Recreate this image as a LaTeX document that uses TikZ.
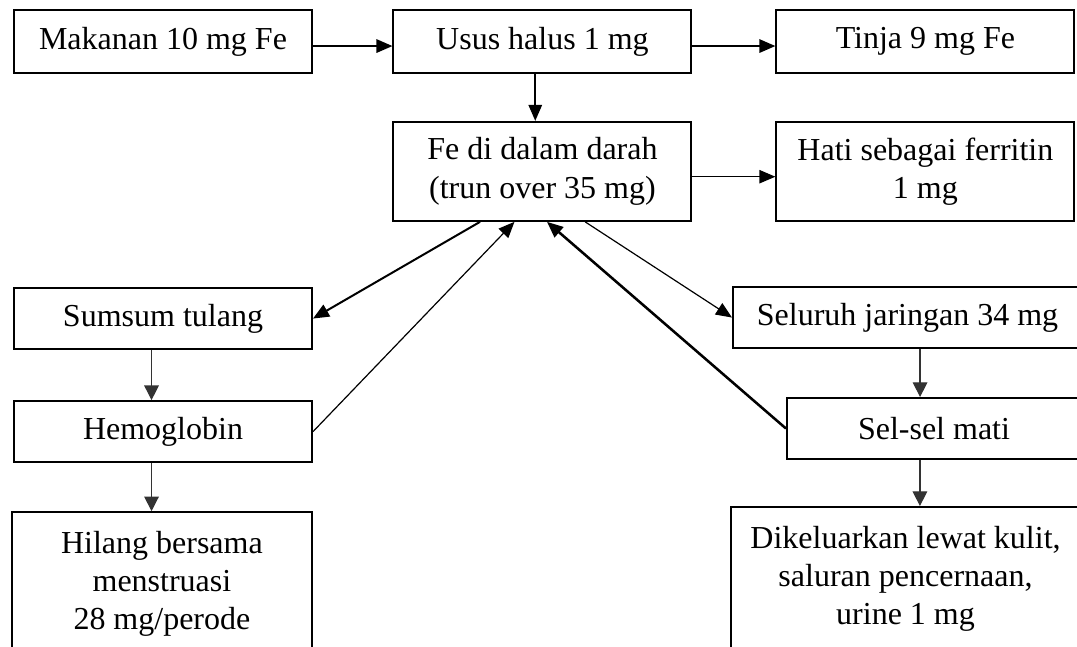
\documentclass[tikz,border=0pt]{standalone}
\usepackage{fontspec}
\setmainfont{Liberation Serif}
\usetikzlibrary{arrows.meta,positioning}
\newcommand{\padR}{\hspace*{6pt}}
\tikzset{
  basebox/.style={rectangle,draw=black,line width=0.75pt,align=center,inner sep=0pt,font=\fontsize{12}{14.3}\selectfont},
  topbox/.style={basebox,minimum width=111.75pt,minimum height=23.6pt},
  bloodbox/.style={basebox,minimum width=111.75pt,minimum height=37.1pt},
  organbox/.style={basebox,minimum width=111.75pt,minimum height=22.9pt},
  lossbox/.style={basebox,minimum width=112.5pt,minimum height=54pt},
  tissuebox/.style={basebox,minimum width=136.9pt,minimum height=22.9pt},
  arr/.style={-{Triangle[length=6pt,width=5pt]},line width=0.75pt,color=black},
  thinarr/.style={arr,line width=0.45pt},
  thickarr/.style={arr,line width=0.95pt},
  grayarr/.style={-{Triangle[length=5.5pt,width=5.5pt]},line width=0.45pt,color=black!80}
}

\begin{document}
\begin{tikzpicture}[node distance=17.6pt and 29.8pt]
  \useasboundingbox (0,0) rectangle (403.875pt,-242.625pt);
  \clip (0,0) rectangle (403.875pt,-242.625pt);
  \node[topbox] (mak) at (61.125pt,-15.5625pt) {Makanan 10 mg Fe};
  \node[topbox,right=29.8pt of mak] (usus) {Usus halus 1 mg};
  \node[topbox,right=31.1pt of usus] (tinja) {Tinja 9 mg Fe};
  \node[bloodbox,below=17.6pt of usus] (fe) {Fe di dalam darah\\(trun over 35 mg)};
  \node[bloodbox,right=31.1pt of fe] (hati) {Hati sebagai ferritin\\1 mg};
  \node[organbox,below=79.9pt of mak] (sumsum) {Sumsum tulang};
  \node[organbox,below=18.75pt of sumsum] (hemo) {Hemoglobin};
  \node[lossbox,below=18pt of hemo,xshift=-0.4pt] (hilang) {Hilang bersama\\menstruasi\\28 mg/perode};
  \node[tissuebox,anchor=north west] (seluruh) at (274.5pt,-107.25pt) {Seluruh jaringan 34 mg\padR};
  \node[organbox,minimum width=116.25pt,anchor=north west] (sel) at (294.75pt,-148.875pt) {Sel-sel mati\padR};
  \node[lossbox,minimum width=130.9pt,anchor=north west] (dik) at (273.75pt,-189.75pt) {Dikeluarkan lewat kulit,\\saluran pencernaan,\\urine 1 mg};
  \draw[arr] ([yshift=-1.7pt]mak.east) -- ([yshift=-1.7pt]usus.west);
  \draw[arr] ([yshift=-1.7pt]usus.east) -- ([yshift=-1.7pt]tinja.west);
  \draw[arr] ([xshift=-2.7pt]usus.south) -- ([xshift=-2.7pt]fe.north);
  \draw[thinarr] ([yshift=-2pt]fe.east) -- ([yshift=-2pt]hati.west);
  \draw[arr] ([xshift=-23.4pt]fe.south) -- (sumsum.east);
  \draw[thinarr] (hemo.east) -- ([xshift=-10.5pt]fe.south);
  \draw[thickarr] (sel.west) -- ([xshift=1.7pt]fe.south);
  \draw[thinarr] ([xshift=16pt]fe.south) -- (seluruh.west);
  \draw[grayarr] ([xshift=1.7pt]seluruh.south) -- ([xshift=1.7pt]seluruh.south |- sel.north);
  \draw[grayarr] ([xshift=-4.3pt]sumsum.south) -- ([xshift=-4.3pt]hemo.north);
  \draw[grayarr] ([xshift=-4.3pt]hemo.south) -- ([xshift=-4.3pt]hemo.south |- hilang.north);
  \draw[grayarr] ([xshift=5.4pt]dik.north |- sel.south) -- ([xshift=5.4pt]dik.north);
\end{tikzpicture}
\end{document}
